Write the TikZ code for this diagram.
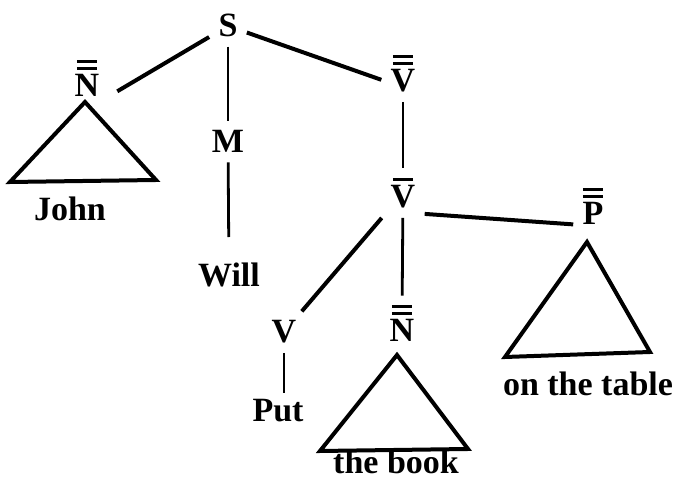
\documentclass[tikz,border=0pt]{standalone}
\usepackage{fontspec}
\setmainfont{Liberation Serif}

% bars over a category letter
\newcommand{\onebar}[1]{\leavevmode\vbox{\offinterlineskip\halign{\hfil##\hfil\cr
  \rule{0.6em}{0.09em}\cr\noalign{\kern0.15em}#1\cr}}}
\newcommand{\twobar}[1]{\leavevmode\vbox{\offinterlineskip\halign{\hfil##\hfil\cr
  \rule{0.6em}{0.09em}\cr\noalign{\kern0.1em}\rule{0.6em}{0.09em}\cr\noalign{\kern0.15em}#1\cr}}}

\begin{document}
\begin{tikzpicture}[x=0.5pt,y=-0.5pt,
      cat/.style={inner sep=4.5pt,anchor=base,font=\fontsize{17}{20}\selectfont\bfseries},
      word/.style={cat,inner sep=3pt},
      edge/.style={draw=black,line width=2pt},
      stem/.style={draw=black,line width=1.4pt},
      tri/.style={draw=black,line width=2pt,line join=miter}]
    \useasboundingbox (0,0) rectangle (676,480);
    % categories
    \node[cat] (S)    at (228,37)  {S};
    \node[cat] (NPa)  at (87,97)   {\twobar{N}};
    \node[cat] (M)    at (228,153) {M};
    \node[cat] (VPa)  at (403,92)  {\twobar{V}};
    \node[cat] (Vbar) at (403,208) {\onebar{V}};
    \node[cat] (V)    at (284,343) {V};
    \node[cat] (NPb)  at (402,342) {\twobar{N}};
    \node[cat] (PP)   at (593,225) {\twobar{P}};
    % words
    \node[word] (john)  at (70,221)  {John};
    \node[word] (will)  at (229,287) {Will};
    \node[word] (put)   at (278,422) {Put};
    \node[word] (book)  at (396,474) {the book};
    \node[word] (table) at (588,396) {on the table};
    % triangle corners
    \coordinate (J-A) at (85,102);  \coordinate (J-L) at (10,182);  \coordinate (J-R) at (156,180);
    \coordinate (B-A) at (397,355); \coordinate (B-L) at (320,451); \coordinate (B-R) at (468,449);
    \coordinate (T-A) at (587,242); \coordinate (T-L) at (505,357); \coordinate (T-R) at (650,352);
    % branches
    \draw[edge,shorten >=5pt] (S) -- ([yshift=5pt]NPa.south east);
    \draw[edge] (S) -- ([yshift=-3pt]VPa.west);
    \draw[edge] ([yshift=2pt]Vbar.south east) -- ([yshift=5pt]PP.south west);
    \draw[edge] (Vbar) -- (V);
    \draw[stem] (S) -- (M);
    \draw[stem] (VPa) -- (Vbar);
    \draw[stem] (Vbar) -- (NPb);
    \draw[stem] (V) -- (V |- put.north);
    \draw[stem,shorten >=10pt] (M) -- (will);
    \foreach \t in {J,B,T} {
      \draw[tri] (\t-A) -- (\t-L) -- (\t-R) -- cycle;
    }
\end{tikzpicture}
\end{document}
